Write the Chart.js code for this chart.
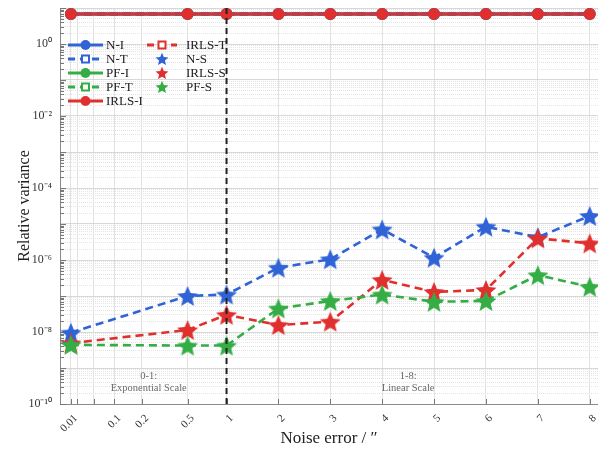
<!DOCTYPE html>
<html lang="en">
<head>
<meta charset="UTF-8">
<title>Relative variance vs noise error</title>
<style>
    body { margin: 0; background: #fff; }
    #wrap { width: 598px; height: 456px; }
</style>
</head>
<body>
<div id="wrap"><canvas id="varChart" width="598" height="456"></canvas></div>

<script src="https://cdn.jsdelivr.net/npm/chart.js"></script>
<script>
// noise levels (arcsec) at which every method was run
var noise = [0.01, 0.5, 1, 2, 3, 4, 5, 6, 7, 8];

// relative variance, one array per method
var nI    = [6.8, 6.8, 6.8, 6.8, 6.8, 6.8, 6.8, 6.8, 6.8, 6.8];
var nT    = [6.8, 6.8, 6.8, 6.8, 6.8, 6.8, 6.8, 6.8, 6.8, 6.8];
var pfI   = [6.8, 6.8, 6.8, 6.8, 6.8, 6.8, 6.8, 6.8, 6.8, 6.8];
var pfT   = [6.8, 6.8, 6.8, 6.8, 6.8, 6.8, 6.8, 6.8, 6.8, 6.8];
var irlsI = [6.8, 6.8, 6.8, 6.8, 6.8, 6.8, 6.8, 6.8, 6.8, 6.8];
var irlsT = [6.8, 6.8, 6.8, 6.8, 6.8, 6.8, 6.8, 6.8, 6.8, 6.8];
var nS    = [9.6e-9, 1.0e-7, 1.1e-7, 6.1e-7, 1.05e-6, 7.1e-6, 1.16e-6, 8.4e-6, 4.3e-6, 1.67e-5];
var irlsS = [4.9e-9, 1.14e-8, 3.0e-8, 1.56e-8, 1.94e-8, 2.8e-7, 1.3e-7, 1.47e-7, 4.0e-6, 2.9e-6];
var pfS   = [4.4e-9, 4.2e-9, 4.2e-9, 4.5e-8, 7.3e-8, 1.1e-7, 6.9e-8, 7.3e-8, 3.8e-7, 1.8e-7];

// axis ticks
var xTicks = [0.01, 0.02, 0.05, 0.1, 0.2, 0.5, 1, 2, 3, 4, 5, 6, 7, 8];
var xTickLabels = ['0.01', '', '', '0.1', '0.2', '0.5', '1', '2', '3', '4', '5', '6', '7', '8'];
var yLabelDecades = [-10, -8, -6, -4, -2, 0];
var yTickLabels = ['10\u207B\u00B9\u2070', '10\u207B\u2078', '10\u207B\u2076', '10\u207B\u2074', '10\u207B\u00B2', '10\u2070'];

var BLUE = '#2f63d6', RED = '#e0302e', GREEN = '#35ad45';
var SERIF = "'Liberation Serif', 'Times New Roman', serif";

// 0-1 is squeezed on a log-like curve, 1-8 is linear (one unit per step)
function xPos(v) {
    if (v >= 1) return v - 1;
    var c = 0.08, a = Math.log(0.01 + c), b = Math.log(1 + c);
    return -3 * (1 - (Math.log(v + c) - a) / (b - a));
}

function pts(vals) {
    return noise.map(function (n, i) { return { x: xPos(n), y: vals[i] }; });
}

function starPath(ctx, cx, cy, R) {
    var r = R * 0.45;
    ctx.beginPath();
    for (var i = 0; i < 10; i++) {
        var rad = i % 2 === 0 ? R : r;
        var a = -Math.PI / 2 + i * Math.PI / 5;
        var px = cx + rad * Math.cos(a), py = cy + rad * Math.sin(a);
        if (i === 0) ctx.moveTo(px, py); else ctx.lineTo(px, py);
    }
    ctx.closePath();
}

function makeStar(color, R) {
    var c = document.createElement('canvas');
    var s = Math.ceil(R * 2 + 2);
    c.width = s; c.height = s;
    var g = c.getContext('2d');
    starPath(g, s / 2, s / 2 + R * 0.1, R);
    g.fillStyle = color;
    g.fill();
    return c;
}

function isDecade(v) {
    var e = Math.round(Math.log10(v));
    return Math.abs(v / Math.pow(10, e) - 1) < 1e-6;
}

function topLine(label, data, color, dashed, marker, order) {
    return {
        label: label, data: pts(data), order: order,
        borderColor: color, borderWidth: 3, borderDash: dashed ? [8, 5] : [],
        pointStyle: marker, pointRadius: marker === 'circle' ? 5 : 4,
        pointBackgroundColor: marker === 'circle' ? color : '#fff',
        pointBorderColor: color, pointBorderWidth: 2
    };
}

function starLine(label, data, color, order) {
    return {
        label: label, data: pts(data), order: order,
        borderColor: color, borderWidth: 2.6, borderDash: [8, 5],
        pointStyle: makeStar(color, 11), pointRadius: 10
    };
}

// inward tick marks like MATLAB axes
var tickPlugin = {
    id: 'innerTicks',
    beforeDatasetsDraw: function (chart) {
        var ctx = chart.ctx, area = chart.chartArea;
        var xs = chart.scales.x, ys = chart.scales.y;
        ctx.save();
        ctx.strokeStyle = '#777';
        ctx.lineWidth = 1;
        ctx.beginPath();
        ys.ticks.forEach(function (t) {
            var y = Math.round(ys.getPixelForValue(t.value)) + 0.5;
            var len = isDecade(t.value) ? 6 : 4;
            ctx.moveTo(area.left, y); ctx.lineTo(area.left + len, y);
        });
        xs.ticks.forEach(function (t) {
            var x = Math.round(xs.getPixelForValue(t.value)) + 0.5;
            ctx.moveTo(x, area.bottom); ctx.lineTo(x, area.bottom - 5);
        });
        ctx.stroke();
        ctx.restore();
    }
};

// legend drawn inside the plot, MATLAB style (line + marker)
var legendPlugin = {
    id: 'matLegend',
    afterDraw: function (chart) {
        var ctx = chart.ctx;
        var items = [
            { t: 'N-I', c: BLUE, d: false, m: 'circle' },
            { t: 'N-T', c: BLUE, d: true, m: 'square' },
            { t: 'PF-I', c: GREEN, d: false, m: 'circle' },
            { t: 'PF-T', c: GREEN, d: true, m: 'square' },
            { t: 'IRLS-I', c: RED, d: false, m: 'circle' },
            { t: 'IRLS-T', c: RED, d: true, m: 'square' },
            { t: 'N-S', c: BLUE, m: 'star' },
            { t: 'IRLS-S', c: RED, m: 'star' },
            { t: 'PF-S', c: GREEN, m: 'star' }
        ];
        ctx.save();
        ctx.font = '13px ' + SERIF;
        ctx.textBaseline = 'middle';
        items.forEach(function (it, i) {
            var col = i < 5 ? 0 : 1;
            var row = i < 5 ? i : i - 5;
            var x0 = col === 0 ? 68 : 147, x1 = col === 0 ? 103 : 177;
            var mx = (x0 + x1) / 2;
            var y = 45 + row * 14;
            if (it.m !== 'star') {
                ctx.beginPath();
                ctx.setLineDash(it.d ? [7, 5] : []);
                ctx.strokeStyle = it.c;
                ctx.lineWidth = 3;
                ctx.moveTo(x0, y); ctx.lineTo(x1, y);
                ctx.stroke();
                ctx.setLineDash([]);
            }
            if (it.m === 'circle') {
                ctx.beginPath();
                ctx.arc(mx, y, 5, 0, Math.PI * 2);
                ctx.fillStyle = it.c;
                ctx.fill();
            } else if (it.m === 'square') {
                ctx.fillStyle = '#fff';
                ctx.fillRect(mx - 3.5, y - 3.5, 7, 7);
                ctx.strokeStyle = it.c;
                ctx.lineWidth = 2;
                ctx.strokeRect(mx - 3.5, y - 3.5, 7, 7);
            } else {
                starPath(ctx, mx, y + 0.6, 6.8);
                ctx.fillStyle = it.c;
                ctx.fill();
            }
            ctx.fillStyle = '#222';
            ctx.fillText(it.t, col === 0 ? 106 : 186, y + 1);
        });
        ctx.restore();
    }
};

// region notes at the bottom of the plot
var notePlugin = {
    id: 'scaleNotes',
    beforeDatasetsDraw: function (chart) {
        var ctx = chart.ctx, xs = chart.scales.x, area = chart.chartArea;
        var left = xs.getPixelForValue((xPos(0.01) + xPos(1)) / 2);
        var right = xs.getPixelForValue((xPos(1) + xPos(8)) / 2);
        ctx.save();
        ctx.font = '10.5px ' + SERIF;
        ctx.fillStyle = '#6a6a6a';
        ctx.textAlign = 'center';
        ctx.textBaseline = 'middle';
        ctx.fillText('0-1:', left, area.bottom - 28);
        ctx.fillText('Exponential Scale', left, area.bottom - 16);
        ctx.fillText('1-8:', right, area.bottom - 28);
        ctx.fillText('Linear Scale', right, area.bottom - 16);
        ctx.restore();
    }
};

var ctx = document.getElementById('varChart').getContext('2d');
var chart = new Chart(ctx, {
    type: 'line',
    data: {
        datasets: [
            {
                label: 'divider',
                data: [{ x: xPos(1), y: 1e-10 }, { x: xPos(1), y: 10 }],
                order: 0, borderColor: '#222', borderWidth: 2, borderDash: [6, 4], pointRadius: 0
            },
            topLine('IRLS-I', irlsI, RED, false, 'circle', 1),
            starLine('PF-S', pfS, GREEN, 2),
            starLine('IRLS-S', irlsS, RED, 3),
            starLine('N-S', nS, BLUE, 4),
            topLine('N-I', nI, BLUE, false, 'circle', 5),
            topLine('N-T', nT, BLUE, true, 'rect', 5),
            topLine('PF-I', pfI, GREEN, false, 'circle', 5),
            topLine('PF-T', pfT, GREEN, true, 'rect', 5),
            topLine('IRLS-T', irlsT, RED, true, 'rect', 5)
        ]
    },
    options: {
        responsive: false,
        animation: false,
        layout: { autoPadding: false, padding: { top: 8, right: 0, bottom: 0, left: 0 } },
        elements: { line: { tension: 0 } },
        plugins: {
            legend: { display: false },
            tooltip: { enabled: false }
        },
        scales: {
            x: {
                type: 'linear',
                min: -3.21,
                max: 7.16,
                afterBuildTicks: function (scale) {
                    scale.ticks = xTicks.map(function (v) { return { value: xPos(v) }; });
                },
                afterFit: function (scale) {
                    scale.height = 52;
                    scale.paddingLeft = 0;
                    scale.paddingRight = 0;
                },
                grid: { color: '#e2e2e2', drawTicks: false },
                border: { color: '#8a8a8a', width: 1 },
                ticks: {
                    autoSkip: false,
                    minRotation: 45,
                    maxRotation: 45,
                    padding: 8,
                    labelOffset: 5,
                    color: '#333',
                    font: { family: SERIF, size: 11 },
                    callback: function (v, i) { return xTickLabels[i]; }
                },
                title: {
                    display: true,
                    text: 'Noise error / \u2033',
                    color: '#222',
                    font: { family: SERIF, size: 17 },
                    padding: { top: 0, bottom: 7 }
                }
            },
            y: {
                type: 'logarithmic',
                min: 1e-10,
                max: 10,
                afterBuildTicks: function (scale) {
                    var t = [];
                    for (var e = -10; e < 1; e++) {
                        for (var k = 1; k < 10; k++) t.push({ value: k * Math.pow(10, e) });
                    }
                    t.push({ value: 10 });
                    scale.ticks = t;
                },
                afterFit: function (scale) {
                    scale.width = 60;
                    scale.paddingTop = 0;
                    scale.paddingBottom = 0;
                },
                grid: {
                    drawTicks: false,
                    color: function (c) {
                        if (!c.tick) return '#e2e2e2';
                        return isDecade(c.tick.value) ? '#d8d8d8' : '#e4e4e4';
                    }
                },
                border: {
                    color: '#8a8a8a', width: 1,
                    dash: function (c) {
                        if (!c.tick) return [];
                        return isDecade(c.tick.value) ? [] : [1, 1];
                    }
                },
                ticks: {
                    autoSkip: false,
                    padding: 8,
                    color: '#333',
                    font: { family: SERIF, size: 12 },
                    callback: function (v) {
                        if (!isDecade(v)) return '';
                        var idx = yLabelDecades.indexOf(Math.round(Math.log10(v)));
                        return idx < 0 ? '' : yTickLabels[idx];
                    }
                },
                title: {
                    display: true,
                    text: 'Relative variance',
                    color: '#222',
                    font: { family: SERIF, size: 16 },
                    padding: { top: 15, bottom: 0 }
                }
            }
        }
    },
    plugins: [tickPlugin, legendPlugin, notePlugin]
});
</script>
</body>
</html>
